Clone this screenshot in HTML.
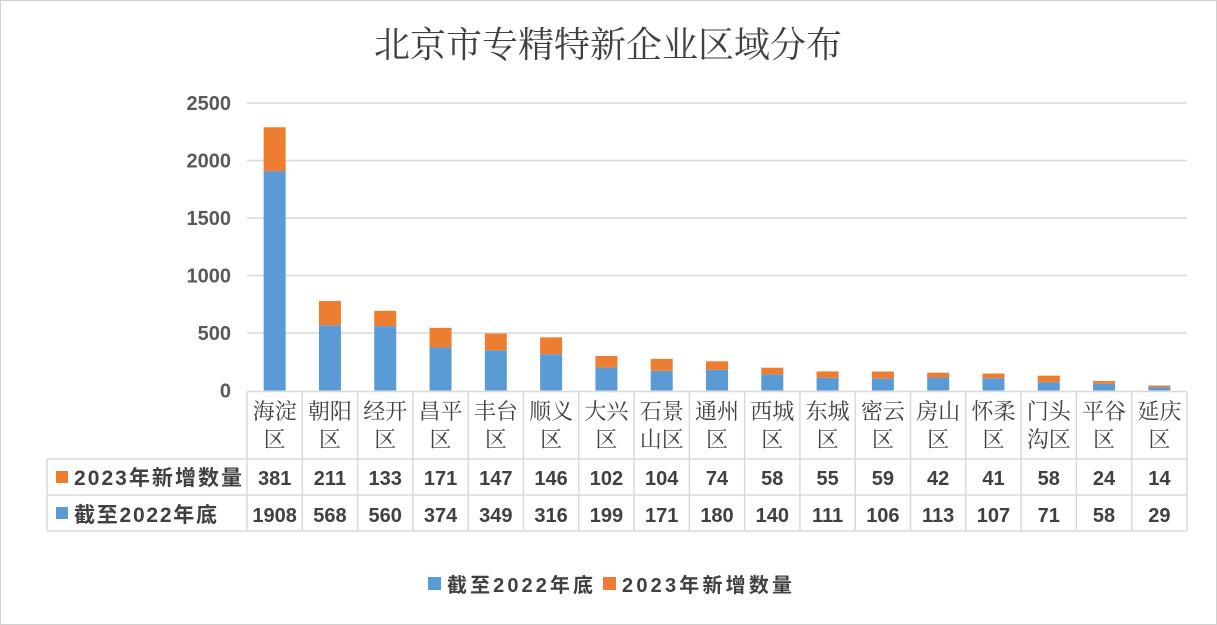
<!DOCTYPE html>
<html><head><meta charset="utf-8"><style>
body{margin:0;background:#fff}
svg{display:block}
.s{font-family:"Liberation Serif","Noto Serif CJK SC",serif}
.n{font-family:"Liberation Sans","Noto Sans CJK SC",sans-serif;font-weight:bold}
</style></head><body>
<svg width="1217" height="625" xmlns="http://www.w3.org/2000/svg">
<rect x="0.5" y="0.5" width="1216" height="624" fill="#fff" stroke="#d0d0d0"/>
<text x="608" y="57" text-anchor="middle" class="s" font-size="36" fill="#404040">北京市专精特新企业区域分布</text>
<g id="g"></g>
</svg>
<script>
const cats=["海淀|区","朝阳|区","经开|区","昌平|区","丰台|区","顺义|区","大兴|区","石景|山区","通州|区","西城|区","东城|区","密云|区","房山|区","怀柔|区","门头|沟区","平谷|区","延庆|区"];
const a=[381,211,133,171,147,146,102,104,74,58,55,59,42,41,58,24,14];
const b=[1908,568,560,374,349,316,199,171,180,140,111,106,113,107,71,58,29];
const x0=247,x1=1187,w=(x1-x0)/17,y0=390.5,k=0.115;
const F='font-family="Liberation Sans,Noto Sans CJK SC,sans-serif" font-weight="bold"';
let s="";
for(let i=0;i<=5;i++){const y=y0-i*500*k;
 if(i>0)s+=`<line x1="${x0}" x2="${x1}" y1="${y}" y2="${y}" stroke="#d9d9d9" stroke-width="1.5"/>`;
 s+=`<text x="231" y="${y+7}" text-anchor="end" class="n" font-size="20" fill="#595959">${i*500}</text>`;}
cats.forEach((c,i)=>{const cx=x0+w*(i+0.5),bw=22;
 const hb=b[i]*k,ha=a[i]*k;
 s+=`<rect x="${cx-bw/2}" y="${y0-hb}" width="${bw}" height="${hb}" fill="#5b9bd5"/>`;
 s+=`<rect x="${cx-bw/2}" y="${y0-hb-ha}" width="${bw}" height="${ha}" fill="#ed7d31"/>`;
 const [l1,l2]=c.split("|");
 s+=`<text x="${cx}" y="419" text-anchor="middle" class="s" font-size="22" fill="#404040">${l1}</text>`;
 s+=`<text x="${cx}" y="447" text-anchor="middle" class="s" font-size="22" fill="#404040">${l2}</text>`;
 s+=`<text x="${cx}" y="485" text-anchor="middle" class="n" font-size="20" fill="#404040">${a[i]}</text>`;
 s+=`<text x="${cx}" y="522" text-anchor="middle" class="n" font-size="20" fill="#404040">${b[i]}</text>`;
});
const L='stroke="#d9d9d9" stroke-width="1.5"';
for(let i=0;i<=17;i++){const x=x0+w*i;s+=`<line x1="${x}" x2="${x}" y1="392" y2="531" ${L}/>`;}
s+=`<line x1="47" x2="${x1}" y1="459" y2="459" ${L}/><line x1="47" x2="${x1}" y1="495" y2="495" ${L}/><line x1="47" x2="${x1}" y1="531" y2="531" ${L}/><line x1="${x0}" x2="${x1}" y1="391.5" y2="391.5" ${L}/><line x1="47" x2="47" y1="459" y2="531" ${L}/>`;
s+=`<rect x="56" y="471" width="12" height="12" fill="#ed7d31"/><text x="74" y="485" font-size="21" fill="#404040" ${F} textLength="168">2023年新增数量</text>`;
s+=`<rect x="56" y="507" width="12" height="12" fill="#5b9bd5"/><text x="74" y="522" font-size="21" fill="#404040" ${F} textLength="143">截至2022年底</text>`;
s+=`<rect x="428" y="577" width="13" height="13" fill="#5b9bd5"/><text x="447" y="592" font-size="20" fill="#404040" ${F} textLength="146">截至2022年底</text>`;
s+=`<rect x="603" y="577" width="13" height="13" fill="#ed7d31"/><text x="622" y="592" font-size="20" fill="#404040" ${F} textLength="170">2023年新增数量</text>`;
document.getElementById("g").innerHTML=s;
</script>
</body></html>
